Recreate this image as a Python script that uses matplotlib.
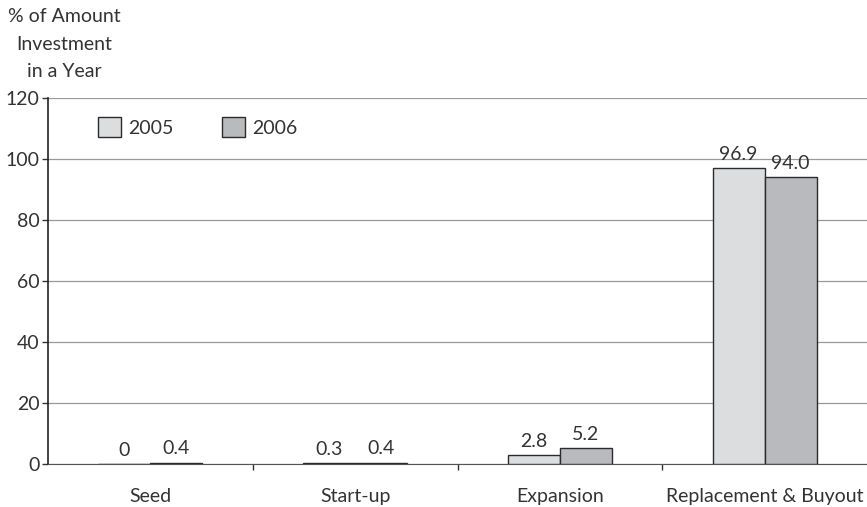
import matplotlib.pyplot as plt
import numpy as np

plt.rcParams['font.family'] = ['Lato', 'DejaVu Sans']

stages = ["Seed", "Start-up", "Expansion", "Replacement & Buyout"]
years = ["2005", "2006"]
share_2005 = [0, 0.3, 2.8, 96.9]
share_2006 = [0.4, 0.4, 5.2, 94.0]
labels_2005 = ["0", "0.3", "2.8", "96.9"]
labels_2006 = ["0.4", "0.4", "5.2", "94.0"]

fig = plt.figure(figsize=(8.67, 5.07), dpi=100)
ax = fig.add_axes([48 / 867, 1 - 464 / 507, 819 / 867, 366 / 507])

x = np.arange(len(stages)) + 0.5
w = 0.254
bars05 = ax.bar(x - w / 2, share_2005, w, color="#dcdddf", edgecolor="#2b2b2b",
                linewidth=1.0, label=years[0], zorder=3)
bars06 = ax.bar(x + w / 2, share_2006, w, color="#b9babd", edgecolor="#2b2b2b",
                linewidth=1.0, label=years[1], zorder=3)

# value labels above each bar
for bars, labs in ((bars05, labels_2005), (bars06, labels_2006)):
    for b, lab in zip(bars, labs):
        ax.text(b.get_x() + b.get_width() / 2, b.get_height() + 1.8, lab,
                ha="center", va="bottom", fontsize=14, color="#333333")

ax.set_xlim(0, len(stages))
ax.set_ylim(0, 120)
ax.set_yticks(range(0, 121, 20))
ax.tick_params(axis="y", labelsize=14, length=4, colors="#333333", width=1, pad=2)
ax.grid(axis="y", color="#999999", linewidth=0.9, zorder=0)

# category labels centred, tick marks between categories
ax.set_xticks(np.arange(1, len(stages)))
ax.set_xticklabels([])
ax.tick_params(axis="x", length=4, direction="out", colors="#333333", width=1)
for xi, name in zip(x, stages):
    ax.text(xi, -7.8, name, ha="center", va="top", fontsize=14, color="#333333")

for s in ("top", "right"):
    ax.spines[s].set_visible(False)
ax.spines["left"].set_color("#222222")
ax.spines["bottom"].set_color("#555555")
ax.spines["left"].set_linewidth(1.2)

fig.text(64 / 867, 1 - 8 / 507, "% of Amount\nInvestment\nin a Year", ha="center",
         va="top", fontsize=14, color="#333333", linespacing=1.75)

ax.legend(loc="upper left", bbox_to_anchor=(0.04, 0.995), ncol=2, frameon=False,
          fontsize=14, handlelength=1.15, handleheight=1.15, columnspacing=2.5,
          handletextpad=0.4, labelcolor="#333333")

fig.savefig("out.png", dpi=100)
